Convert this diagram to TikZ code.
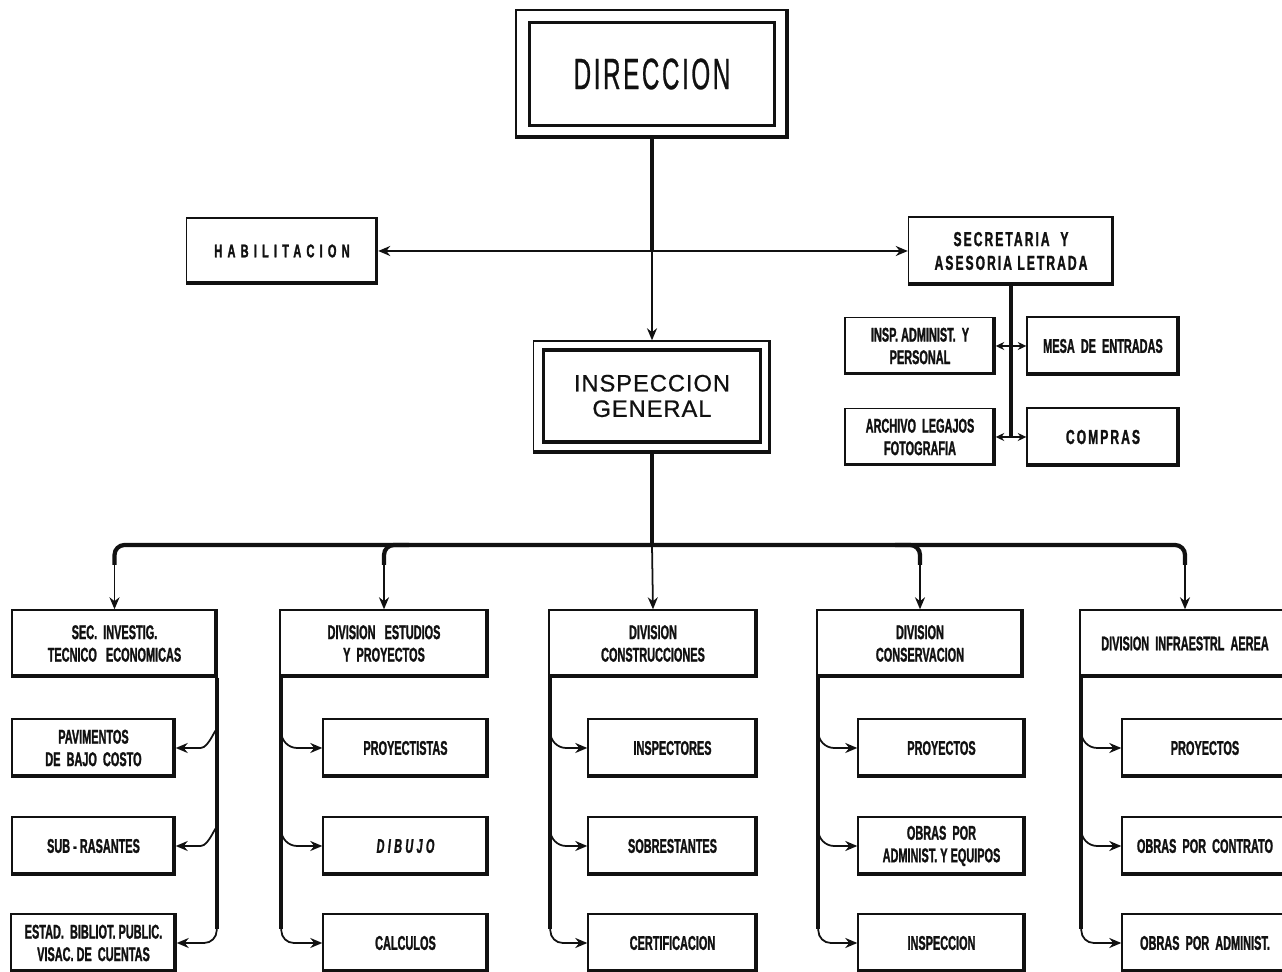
\documentclass[tikz,border=0pt]{standalone}
\usepackage{fontspec}
\setmainfont{Liberation Sans}
\newfontfamily\condfont{Liberation Sans}[FakeStretch=0.55,BoldFeatures={FakeBold=1.2},BoldItalicFeatures={FakeBold=1.2}]
\newfontfamily\spacedfont{Liberation Sans}[FakeStretch=0.6,LetterSpace=10,BoldFeatures={FakeBold=1.2}]
\newfontfamily\habfont{Liberation Sans}[FakeStretch=0.6,LetterSpace=28,BoldFeatures={FakeBold=1.4}]
\newfontfamily\titlefont{Liberation Sans}[FakeStretch=0.55,LetterSpace=6,FakeBold=0.6]
\newfontfamily\igfont{Liberation Sans}[LetterSpace=4,FakeBold=0.8]
\usetikzlibrary{arrows.meta,calc}
\definecolor{Ink}{HTML}{111111}
\tikzset{
  box/.style={draw=Ink,line width=0.8pt,fill=white,align=center,inner sep=0pt,text=Ink,
    font={\condfont\bfseries\fontsize{11.3}{12.8}\selectfont},
    path picture={\draw[Ink,line width=3.4pt] (path picture bounding box.north east) -- (path picture bounding box.south east) -- (path picture bounding box.south west);}},
  sz/.style 2 args={minimum width=#1*0.02cm,minimum height=#2*0.02cm},
  frame/.style={draw=Ink,line width=2.2pt,inner sep=0pt,align=center,text=Ink},
  trunk/.style={draw=Ink,line width=2.4pt},
  arr/.style={-{Stealth[length=2.4mm,width=2mm]},draw=Ink,line width=1pt},
  sarr/.style={-{Stealth[length=1.7mm,width=1.6mm]},draw=Ink,line width=0.9pt}
}
\begin{document}
\begin{tikzpicture}[x=0.02cm,y=-0.02cm]
  \fill[white] (0,0) rectangle (1282,972);
  \useasboundingbox (0,0) rectangle (1282,972);
  \clip (0,0) rectangle (1282,972);
  % top of the chart
  \node[box,sz={272}{128}] (dir) at (652,74) {};
  \node[frame,sz={245}{103},font={\titlefont\fontsize{25}{30}\selectfont}] (dirtxt) at (dir) {DIRECCION};
  \node[box,sz={191}{66},font={\habfont\bfseries\fontsize{10.5}{12}\selectfont}] (hab) at (282,251) {HABILITACION};
  \node[box,sz={205}{68},font={\spacedfont\bfseries\fontsize{11.5}{13.5}\selectfont}] (sec) at (1011,251) {SECRETARIA~ Y\\ASESORIA LETRADA};
  \node[box,sz={150}{57}] (inspadm) at (920,346) {INSP.~ADMINIST.~~Y\\PERSONAL};
  \node[box,sz={152}{58}] (mesa) at (1103,346) {MESA~ DE~ ENTRADAS};
  \node[box,sz={150}{57}] (archivo) at (920,437) {ARCHIVO~ LEGAJOS\\FOTOGRAFIA};
  \node[box,sz={152}{58},font={\spacedfont\bfseries\fontsize{11.5}{13.5}\selectfont}] (compras) at (1103,437) {COMPRAS};
  \node[box,sz={237}{112}] (ig) at (652,397) {};
  \node[frame,sz={217}{92},font={\igfont\fontsize{13.5}{14.5}\selectfont}] (igtxt) at (652,396) {INSPECCION\\GENERAL};
  % divisions
  \node[box,sz={205}{67}] (secinv) at (114.5,643.5) {SEC.~ INVESTIG.\\TECNICO~~ ECONOMICAS};
  \node[box,sz={208}{67}] (estudios) at (384,643.5) {DIVISION~~ ESTUDIOS\\Y~ PROYECTOS};
  \node[box,sz={208}{67}] (constr) at (653,643.5) {DIVISION\\CONSTRUCCIONES};
  \node[box,sz={206}{67}] (conserv) at (920,643.5) {DIVISION\\CONSERVACION};
  \node[box,sz={210}{67}] (infra) at (1185,643.5) {DIVISION~ INFRAESTRL~ AEREA};
  % sections
  \node[box,sz={163}{58}] (pav) at (93.5,748) {PAVIMENTOS\\DE~ BAJO~ COSTO};
  \node[box,sz={163}{58}] (subras) at (93.5,846) {SUB - RASANTES};
  \node[box,sz={165}{58}] (estad) at (93.5,943) {ESTAD.~ BIBLIOT.~PUBLIC.\\VISAC.~DE~ CUENTAS};
  \node[box,sz={165}{58}] (proyectistas) at (405.5,748) {PROYECTISTAS};
  \node[box,sz={165}{58}] (dibujo) at (405.5,846) {\itshape D\,I\,B\,U\,J\,O};
  \node[box,sz={165}{58}] (calculos) at (405.5,943) {CALCULOS};
  \node[box,sz={169}{58}] (inspectores) at (672.5,748) {INSPECTORES};
  \node[box,sz={169}{58}] (sobrestantes) at (672.5,846) {SOBRESTANTES};
  \node[box,sz={169}{58}] (certif) at (672.5,943) {CERTIFICACION};
  \node[box,sz={167}{58}] (proyconserv) at (941.5,748) {PROYECTOS};
  \node[box,sz={167}{58}] (obrasequipos) at (941.5,846) {OBRAS~ POR\\ADMINIST.~Y~EQUIPOS};
  \node[box,sz={167}{58}] (inspeccion) at (941.5,943) {INSPECCION};
  \node[box,sz={166}{58}] (proyinfra) at (1205,748) {PROYECTOS};
  \node[box,sz={166}{58}] (contrato) at (1205,846) {OBRAS~ POR~ CONTRATO};
  \node[box,sz={166}{58}] (admin) at (1205,943) {OBRAS~ POR~ ADMINIST.};

  % direccion to inspeccion, habilitacion, secretaria
  \coordinate (hub) at (dir.south |- hab.east);
  \draw[trunk,line width=2.8pt] (dir.south) -- (hub);
  \draw[arr] (hub) -- (ig.north);
  \draw[arr,line width=1.3pt] (hub) -- (hab.east);
  \draw[arr,line width=1.3pt] (hub) -- (sec.west);
  % secretaria offices
  \draw[trunk] (sec.south) -- (sec.south |- archivo.east);
  \draw[sarr] (sec.south |- inspadm.east) -- (inspadm.east);
  \draw[sarr] (sec.south |- mesa.west) -- (mesa.west);
  \draw[sarr] (sec.south |- archivo.east) -- (archivo.east);
  \draw[sarr] (sec.south |- compras.west) -- (compras.west);

  % inspeccion general to the divisions
  \coordinate (bar) at (652,545);
  \draw[trunk] (ig.south) -- (bar);
  \draw[trunk,rounded corners=0.2cm] ($(bar -| secinv.north)+(0,20)$) -- (bar -| secinv.north) -- (bar -| infra.north) -- ($(bar -| infra.north)+(0,20)$);
  \draw[trunk,rounded corners=0.2cm] ($(bar -| estudios.north)+(25,0)$) -| ($(bar -| estudios.north)+(0,20)$);
  \draw[trunk,rounded corners=0.2cm] ($(bar -| conserv.north)+(-25,0)$) -| ($(bar -| conserv.north)+(0,20)$);
  \draw[arr] ($(bar -| secinv.north)+(0,18)$) -- (secinv.north);
  \draw[arr] ($(bar -| estudios.north)+(0,18)$) -- (estudios.north);
  \draw[arr] (bar) -- (constr.north);
  \draw[arr] ($(bar -| conserv.north)+(0,18)$) -- (conserv.north);
  \draw[arr] ($(bar -| infra.north)+(0,18)$) -- (infra.north);

  % sec. investig.
  \coordinate (t1) at ($(secinv.south east)+(-1,0)$);
  \draw[trunk] (t1) -- ($(t1 |- estad.east)+(0,-14)$);
  \draw[arr] ($(t1 |- pav.east)+(0,-16)$) to[out=90,in=0] ($(t1 |- pav.east)+(-16,0)$) -- (pav.east);
  \draw[arr] ($(t1 |- subras.east)+(0,-16)$) to[out=90,in=0] ($(t1 |- subras.east)+(-16,0)$) -- (subras.east);
  \draw[arr,rounded corners=0.25cm] ($(t1 |- estad.east)+(0,-16)$) |- (estad.east);
  % estudios y proyectos
  \coordinate (t2) at ($(estudios.south west)+(2,0)$);
  \draw[trunk] (t2) -- ($(t2 |- calculos.west)+(0,-14)$);
  \draw[arr] ($(t2 |- proyectistas.west)+(0,-16)$) to[out=-90,in=180] ($(t2 |- proyectistas.west)+(16,0)$) -- (proyectistas.west);
  \draw[arr] ($(t2 |- dibujo.west)+(0,-16)$) to[out=-90,in=180] ($(t2 |- dibujo.west)+(16,0)$) -- (dibujo.west);
  \draw[arr,rounded corners=0.25cm] ($(t2 |- calculos.west)+(0,-16)$) |- (calculos.west);
  % construcciones
  \coordinate (t3) at ($(constr.south west)+(2,0)$);
  \draw[trunk] (t3) -- ($(t3 |- certif.west)+(0,-14)$);
  \draw[arr] ($(t3 |- inspectores.west)+(0,-16)$) to[out=-90,in=180] ($(t3 |- inspectores.west)+(16,0)$) -- (inspectores.west);
  \draw[arr] ($(t3 |- sobrestantes.west)+(0,-16)$) to[out=-90,in=180] ($(t3 |- sobrestantes.west)+(16,0)$) -- (sobrestantes.west);
  \draw[arr,rounded corners=0.25cm] ($(t3 |- certif.west)+(0,-16)$) |- (certif.west);
  % conservacion
  \coordinate (t4) at ($(conserv.south west)+(2,0)$);
  \draw[trunk] (t4) -- ($(t4 |- inspeccion.west)+(0,-14)$);
  \draw[arr] ($(t4 |- proyconserv.west)+(0,-16)$) to[out=-90,in=180] ($(t4 |- proyconserv.west)+(16,0)$) -- (proyconserv.west);
  \draw[arr] ($(t4 |- obrasequipos.west)+(0,-16)$) to[out=-90,in=180] ($(t4 |- obrasequipos.west)+(16,0)$) -- (obrasequipos.west);
  \draw[arr,rounded corners=0.25cm] ($(t4 |- inspeccion.west)+(0,-16)$) |- (inspeccion.west);
  % infraestructura aerea
  \coordinate (t5) at ($(infra.south west)+(2,0)$);
  \draw[trunk] (t5) -- ($(t5 |- admin.west)+(0,-14)$);
  \draw[arr] ($(t5 |- proyinfra.west)+(0,-16)$) to[out=-90,in=180] ($(t5 |- proyinfra.west)+(16,0)$) -- (proyinfra.west);
  \draw[arr] ($(t5 |- contrato.west)+(0,-16)$) to[out=-90,in=180] ($(t5 |- contrato.west)+(16,0)$) -- (contrato.west);
  \draw[arr,rounded corners=0.25cm] ($(t5 |- admin.west)+(0,-16)$) |- (admin.west);
\end{tikzpicture}
\end{document}
